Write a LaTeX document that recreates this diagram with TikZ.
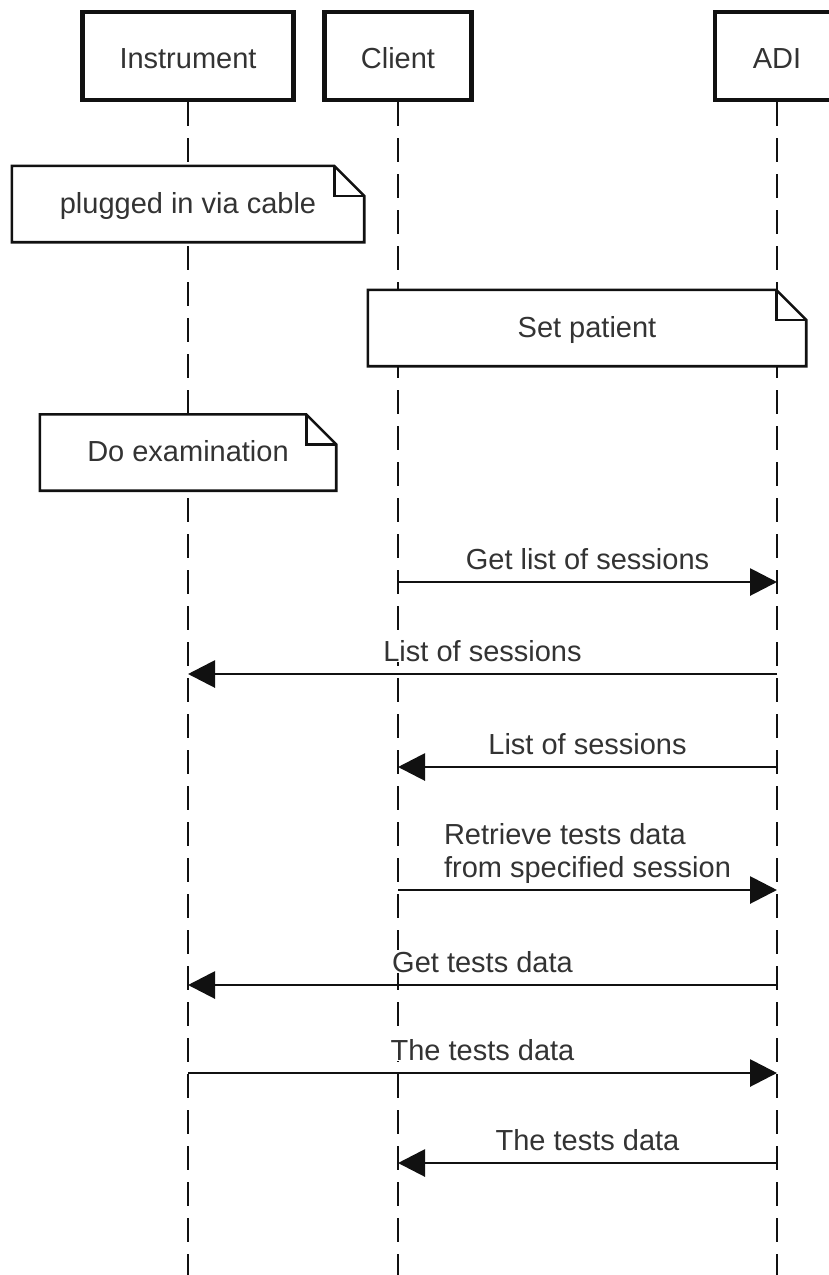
\documentclass[tikz,border=0pt]{standalone}
\usepackage{fontspec}
\setmainfont{Liberation Sans}
\usetikzlibrary{arrows.meta}
\definecolor{ink}{HTML}{333333}
\definecolor{edge}{HTML}{111111}

% outline of a note with a folded top-right corner, drawn around node #1
\newcommand{\dogear}[1]{%
  \filldraw[noteline] (#1.south west) -- (#1.north west)
    -- ([xshift=-30pt]#1.north east) -- ([yshift=-30pt]#1.north east)
    -- (#1.south east) -- cycle;
  \draw[noteline, fill=none] ([xshift=-30pt]#1.north east)
    |- ([yshift=-30pt]#1.north east);
}

\begin{document}
\begin{tikzpicture}[x=1pt, y=-1pt,
  font=\fontsize{29}{33}\selectfont, text=ink,
  actor/.style={draw=edge, line width=4.6pt, fill=white, minimum height=88pt,
    inner sep=0pt, text height=25pt, text depth=0pt},
  lifeline/.style={draw=edge, line width=2.9pt, dash pattern=on 24pt off 12pt},
  noteshape/.style={inner sep=0pt, minimum height=76pt},
  notetext/.style={inner sep=0pt, text height=18pt, text depth=0pt},
  noteline/.style={draw=edge, line width=2.6pt, fill=white, line join=miter},
  msg/.style={draw=edge, line width=2.9pt, -{Triangle[length=27pt,width=27pt]}},
  lbl/.style={anchor=base, yshift=13pt, inner sep=1pt, fill=white}]

\useasboundingbox (0,0) rectangle (829,1275);

% participants
\node[actor, minimum width=211pt] (inst) at (188,56) {Instrument};
\node[actor, minimum width=147pt] (cli)  at (398,56) {Client};
\node[actor, minimum width=124pt] (adi)  at (777,56) {ADI};

% lifelines
\coordinate (bottom) at (0,1275);
\draw[lifeline] (inst.south) -- (inst.south |- bottom);
\draw[lifeline] (cli.south)  -- (cli.south |- bottom);
\draw[lifeline] (adi.south)  -- (adi.south |- bottom);

% notes
\path node[noteshape, minimum width=352pt] (n1) at (188,204) {};
\dogear{n1}
\node[notetext] (n1t) at (n1.center) {plugged in via cable};

\path node[noteshape, minimum width=438pt] (n2) at (587,328) {};
\dogear{n2}
\node[notetext] (n2t) at (n2.center) {Set patient};

\path node[noteshape, minimum width=296pt] (n3) at (188,452.5) {};
\dogear{n3}
\node[notetext] (n3t) at (n3.center) {Do examination};

% message end points on the lifelines
\coordinate (m1a) at (cli |- 0,582);   \coordinate (m1b) at (adi |- 0,582);
\coordinate (m2a) at (adi |- 0,674);   \coordinate (m2b) at (inst |- 0,674);
\coordinate (m3a) at (adi |- 0,767);   \coordinate (m3b) at (cli |- 0,767);
\coordinate (m4a) at (cli |- 0,890);   \coordinate (m4b) at (adi |- 0,890);
\coordinate (m5a) at (adi |- 0,985);   \coordinate (m5b) at (inst |- 0,985);
\coordinate (m6a) at (inst |- 0,1073); \coordinate (m6b) at (adi |- 0,1073);
\coordinate (m7a) at (adi |- 0,1163);  \coordinate (m7b) at (cli |- 0,1163);

% messages
\draw[msg] (m1a) -- (m1b) node[midway, lbl] {Get list of sessions};
\draw[msg] (m2a) -- (m2b) node[midway, lbl] {List of sessions};
\draw[msg] (m3a) -- (m3b) node[midway, lbl] {List of sessions};
\draw[msg] (m4a) -- (m4b) node[midway, anchor=south, inner sep=1pt, fill=white,
  yshift=4.5pt, align=left] {Retrieve tests data\\from specified session};
\draw[msg] (m5a) -- (m5b) node[midway, lbl] {Get tests data};
\draw[msg] (m6a) -- (m6b) node[midway, lbl] {The tests data};
\draw[msg] (m7a) -- (m7b) node[midway, lbl] {The tests data};

\end{tikzpicture}
\end{document}
